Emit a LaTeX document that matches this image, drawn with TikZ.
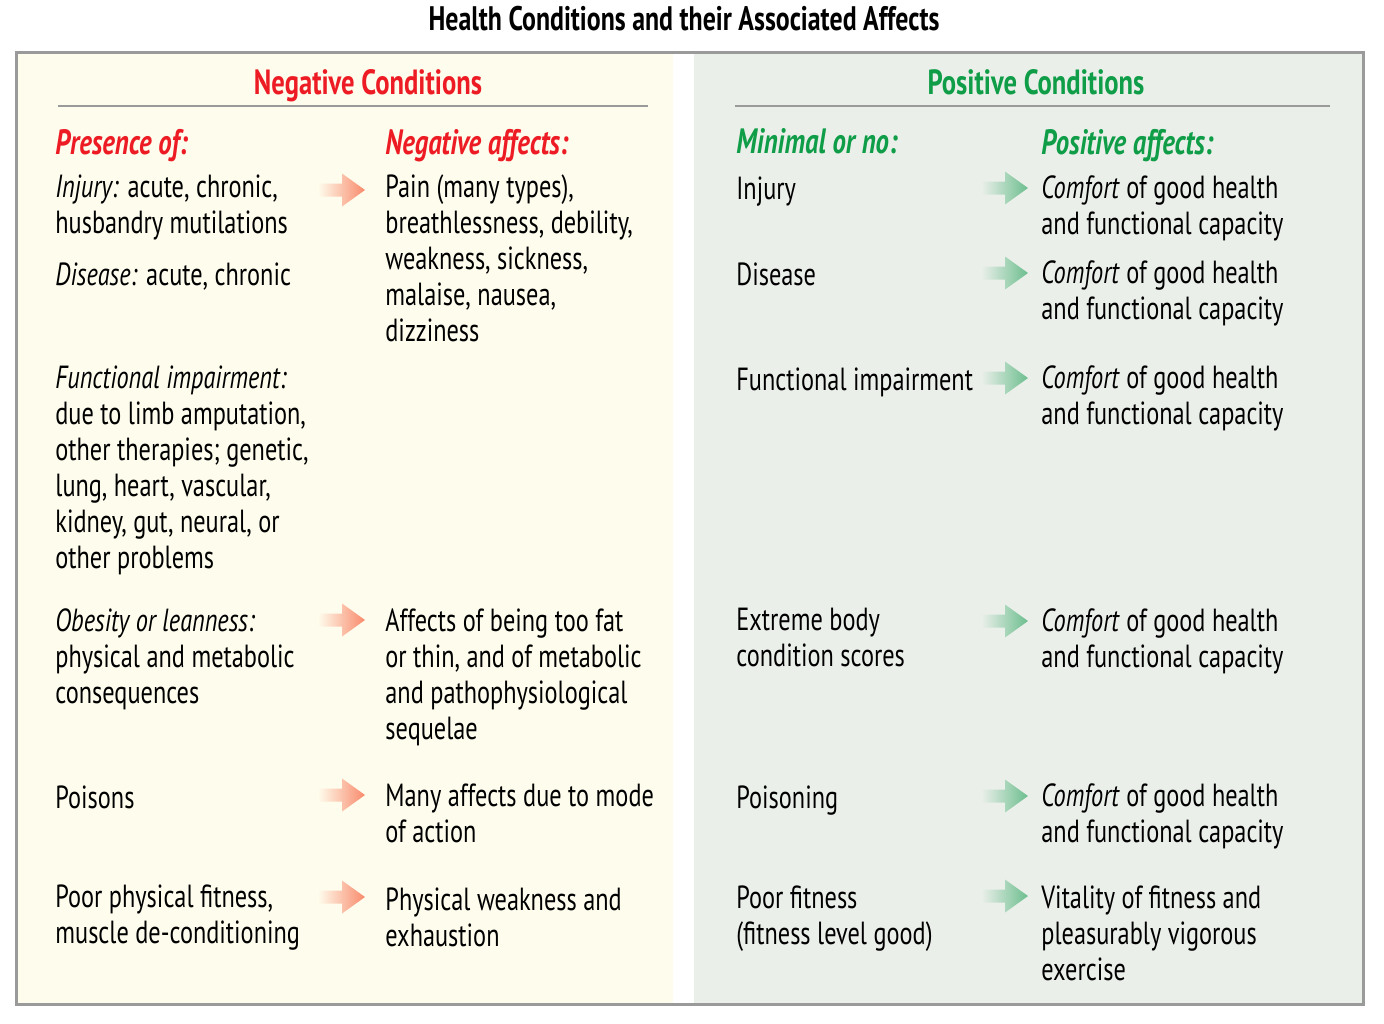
\documentclass[tikz,border=0pt]{standalone}
\usepackage{fontspec}
\setmainfont{PT Sans}[FakeStretch=0.76]
\definecolor{negred}{HTML}{ED1C24}
\definecolor{posgreen}{HTML}{0F9D48}
\definecolor{negbg}{HTML}{FEFCEC}
\definecolor{posbg}{HTML}{EBEFEA}
\definecolor{rulegray}{HTML}{9A9A9A}
\definecolor{negarrow}{HTML}{F98A6C}
\definecolor{posarrow}{HTML}{6CBE8E}

% fat shaded arrow with its tip at (#1,#2)
\newcommand{\affarrow}[4]{%
  \shade[left color=#3, middle color=#4, right color=#4]
    (#1-47,#2-6.5) -- (#1-23,#2-6.5) -- (#1-23,#2-16.5) -- (#1,#2)
    -- (#1-23,#2+16.5) -- (#1-23,#2+6.5) -- (#1-47,#2+6.5) -- cycle;}

\begin{document}
\begin{tikzpicture}[x=0.5pt,y=-0.5pt,
  txt/.style={anchor=north west, inner sep=0, yshift=-1pt, align=left, font=\fontsize{16}{18}\selectfont,
    execute at begin node=\strut},
  colhead/.style={anchor=base west, inner sep=0, yshift=-1pt, font=\fontsize{17.6}{18}\selectfont\bfseries\itshape},
  panelhead/.style={anchor=base, inner sep=0, yshift=-1pt, font=\fontsize{17.5}{18}\selectfont\bfseries}]
\useasboundingbox (0,0) rectangle (1384,1023);

% panels
\fill[negbg] (16,52) rectangle (673,1004);
\fill[posbg] (694,52) rectangle (1363,1004);
\draw[rulegray, line width=1.5] (16,52) rectangle (1363,1004);
\draw[rulegray, line width=1.2] (58,106) -- (648,106);
\draw[rulegray, line width=1.2] (735,106) -- (1330,106);

% headings
\node[panelhead, font=\fontsize{17}{18}\selectfont\bfseries] (title) at (684,28) {Health Conditions and their Associated Affects};
\node[panelhead, negred] (neghead) at (368,92) {Negative Conditions};
\node[panelhead, posgreen] (poshead) at (1036,92) {Positive Conditions};
\node[colhead, negred] (presence) at (55,152) {Presence of:};
\node[colhead, negred] (negaff) at (385,152) {Negative affects:};
\node[colhead, posgreen] (minimal) at (736,151) {Minimal or no:};
\node[colhead, posgreen] (posaff) at (1041,152) {Positive affects:};

% negative conditions (top of first line = baseline - 25)
\node[txt] (injury) at (55,172) {\textit{Injury:} acute, chronic,\\husbandry mutilations};
\node[txt] (disease) at (55,258) {\textit{Disease:} acute, chronic};
\node[txt] (impair) at (55,363) {\textit{Functional impairment:}\\due to limb amputation,\\other therapies; genetic,\\lung, heart, vascular,\\kidney, gut, neural, or\\other problems};
\node[txt] (obesity) at (55,606) {\textit{Obesity or leanness:}\\physical and metabolic\\consequences};
\node[txt] (poisons) at (55,781) {Poisons};
\node[txt] (poorfit) at (55,882) {Poor physical fitness,\\muscle de-conditioning};

\node[txt] (pain) at (385,172) {Pain (many types),\\breathlessness, debility,\\weakness, sickness,\\malaise, nausea,\\dizziness};
\node[txt] (fatthin) at (385,606) {Affects of being too fat\\or thin, and of metabolic\\and pathophysiological\\sequelae};
\node[txt] (mode) at (385,781) {Many affects due to mode\\of action};
\node[txt] (weak) at (385,885) {Physical weakness and\\exhaustion};

% positive conditions
\node[txt] (noinjury) at (736,172) {Injury};
\node[txt] (nodisease) at (736,258) {Disease};
\node[txt] (noimpair) at (736,363) {Functional impairment};
\node[txt] (extreme) at (736,606) {Extreme body\\condition scores};
\node[txt] (poisoning) at (736,781) {Poisoning};
\node[txt] (poorfitness) at (736,883) {Poor fitness\\(fitness level good)};

\foreach \y/\n in {173/cinjury, 258/cdisease, 363/cimpair, 606/cextreme, 781/cpoison}
  {\node[txt] (\n) at (1041,\y) {\textit{Comfort} of good health\\and functional capacity};}
\node[txt] (vitality) at (1041,883) {Vitality of fitness and\\pleasurably vigorous\\exercise};

% arrows
\foreach \y in {190, 620, 795, 897}
  {\affarrow{365}{\y}{negbg}{negarrow}}
\foreach \y in {188, 273, 378, 621, 796, 896}
  {\affarrow{1028}{\y}{posbg}{posarrow}}
\end{tikzpicture}
\end{document}
